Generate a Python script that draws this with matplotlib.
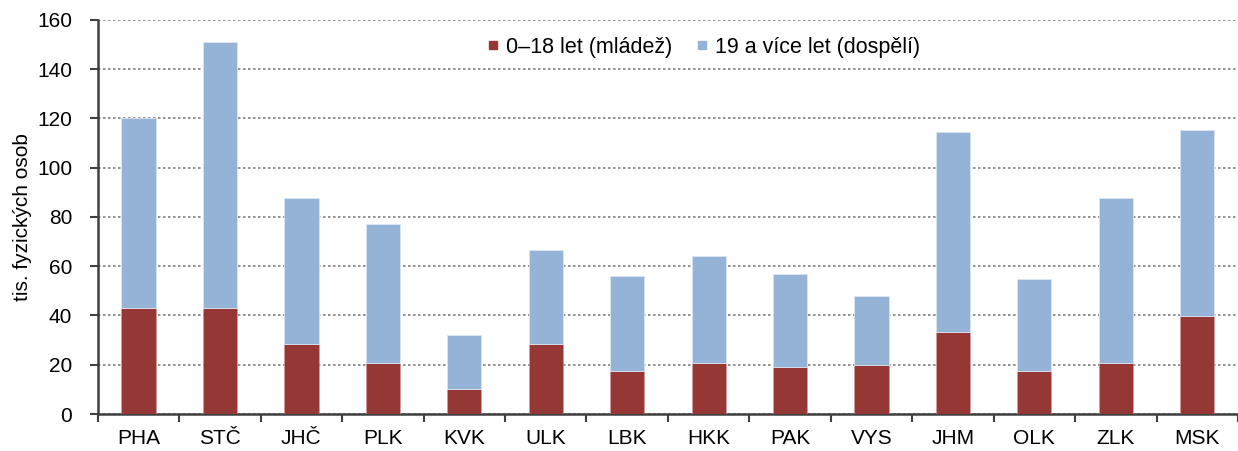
import matplotlib
matplotlib.use("Agg")
import matplotlib.pyplot as plt
from matplotlib.lines import Line2D
import numpy as np

plt.rcParams['font.family'] = ['Liberation Sans', 'DejaVu Sans']

categories = ["PHA", "STČ", "JHČ", "PLK", "KVK", "ULK", "LBK", "HKK", "PAK", "VYS", "JHM", "OLK", "ZLK", "MSK"]
youth = [43.2, 43.2, 28.5, 20.6, 10.2, 28.5, 17.3, 20.7, 19.0, 19.8, 33.4, 17.3, 20.6, 39.9]
total = [120.1, 151.0, 87.7, 77.3, 32.1, 66.7, 56.2, 64.3, 57.0, 48.0, 114.4, 54.7, 87.7, 115.3]
adults = [t - y for t, y in zip(total, youth)]
labels = ["0–18 let (mládež)", "19 a více let (dospělí)"]
yticks = [0, 20, 40, 60, 80, 100, 120, 140, 160]

red = "#953735"
blue = "#95B3D7"

fig = plt.figure(figsize=(12.38, 4.51), dpi=100)
ax = fig.add_axes([0.079, 0.082, 0.921, 0.874])

x = np.arange(len(categories))
w = 0.42
ax.bar(x, youth, w, color=red, edgecolor="#d8a0a0", linewidth=0.4, zorder=3)
ax.bar(x, adults, w, bottom=youth, color=blue, edgecolor="#dce6f2", linewidth=0.6, zorder=3)

ax.set_xlim(-0.5, len(categories) - 0.5)
ax.set_ylim(0, 160)
ax.set_yticks(yticks)
ax.set_xticks(x)
ax.set_xticklabels(categories)
ax.set_xticks(np.arange(-0.5, len(categories), 1.0), minor=True)
ax.tick_params(axis='x', which='major', length=0, labelsize=15, pad=11)
ax.tick_params(axis='x', which='minor', length=6, width=1.5, color="#404040", direction='out')
ax.tick_params(axis='y', length=6, width=1.5, color="#404040", direction='out', labelsize=15, pad=12.5)

ax.yaxis.grid(True, linestyle=(0, (1.5, 1.5)), color="#7f7f7f", linewidth=1.2, zorder=0)
ax.set_axisbelow(True)

for s in ['top', 'right']:
    ax.spines[s].set_visible(False)
for s in ['left', 'bottom']:
    ax.spines[s].set_color("#404040")
    ax.spines[s].set_linewidth(1.8)

ax.set_ylabel("tis. fyzických osob", fontsize=15)
ax.yaxis.set_label_coords(-0.058, 0.5)

handles = [Line2D([], [], marker='s', linestyle='none', color=red, markersize=6),
           Line2D([], [], marker='s', linestyle='none', color=blue, markersize=6)]
ax.legend(handles, labels, loc='center', bbox_to_anchor=(0.53, 0.931), ncol=2,
          frameon=False, fontsize=15.5, handletextpad=0.2, columnspacing=1.0, handlelength=0.8,
          borderaxespad=0, borderpad=0)

fig.savefig("out.png", dpi=100)
